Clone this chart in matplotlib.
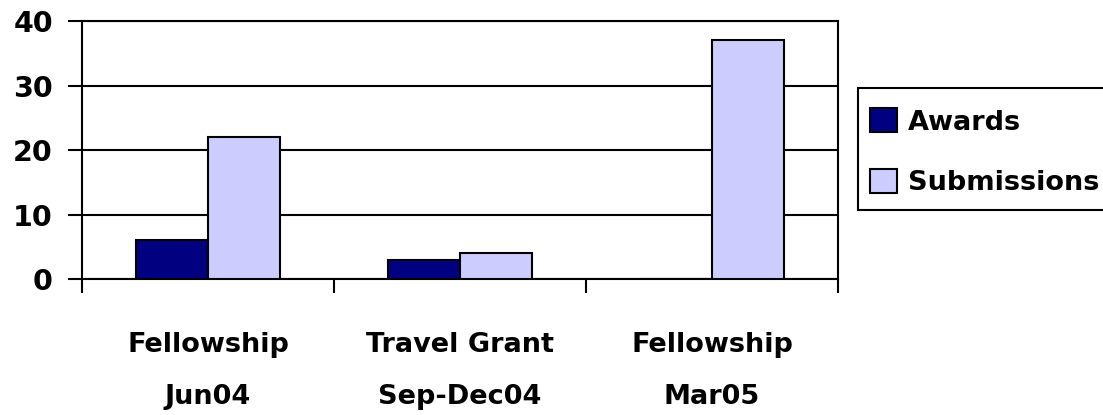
import matplotlib.pyplot as plt
import numpy as np
from matplotlib.ticker import FixedLocator
from matplotlib.patches import Rectangle

categories = ['Fellowship\nJun04', 'Travel Grant\nSep-Dec04', 'Fellowship\nMar05']
awards = [6, 3, 0]
submissions = [22, 4, 37]
y_ticks = [0, 10, 20, 30, 40]

plt.rcParams['font.family'] = 'DejaVu Sans'
plt.rcParams['font.weight'] = 'bold'

fig = plt.figure(figsize=(11.03, 4.15), dpi=100)
W, H = 1103, 415
ax = fig.add_axes([82 / W, 1 - 279 / H, 756 / W, 258 / H])

x = np.arange(len(categories))
bw = 72 / 252  # Excel gap width 150%
lw = 1.5
ax.bar(x - bw / 2, awards, bw, color='#000080', edgecolor='black', linewidth=lw,
       label='Awards', zorder=3)
ax.bar(x + bw / 2, submissions, bw, color='#CCCCFF', edgecolor='black', linewidth=lw,
       label='Submissions', zorder=3)

ax.set_xlim(-0.5, len(categories) - 0.5)
ax.set_ylim(0, 40)
ax.set_yticks(y_ticks)
ax.yaxis.grid(True, color='black', linewidth=lw, zorder=0)
ax.set_axisbelow(True)

for s in ax.spines.values():
    s.set_linewidth(lw)
    s.set_color('black')

# category labels at centres, tick marks on the boundaries
ax.set_xticks(x)
ax.set_xticklabels(categories, fontsize=19.5, fontweight='bold')
ax.xaxis.set_minor_locator(FixedLocator(np.arange(len(categories) + 1) - 0.5))
ax.tick_params(axis='x', which='major', length=0, pad=38)
ax.tick_params(axis='x', which='minor', length=10, width=lw, direction='out')
for lab in ax.get_xticklabels():
    lab.set_linespacing(2.3)
    lab.set_verticalalignment('top')

ax.tick_params(axis='y', length=10, width=lw, direction='out', pad=11, labelsize=20.5)
for lab in ax.get_yticklabels():
    lab.set_fontweight('bold')

# legend box drawn separately so it can run off the right edge
fig.patches.append(Rectangle((858 / W, 1 - 210 / H), 260 / W, 122 / H,
                             transform=fig.transFigure, facecolor='white',
                             edgecolor='black', linewidth=lw, zorder=-1))
leg = fig.legend(loc='upper left', bbox_to_anchor=(858 / W, 1 - 96 / H),
                 bbox_transform=fig.transFigure, borderaxespad=0,
                 prop={'weight': 'bold', 'size': 19.5}, frameon=False,
                 handlelength=1.0, handleheight=1.0, handletextpad=0.4,
                 borderpad=0.45, labelspacing=1.23)

fig.savefig('out.png', dpi=100)
